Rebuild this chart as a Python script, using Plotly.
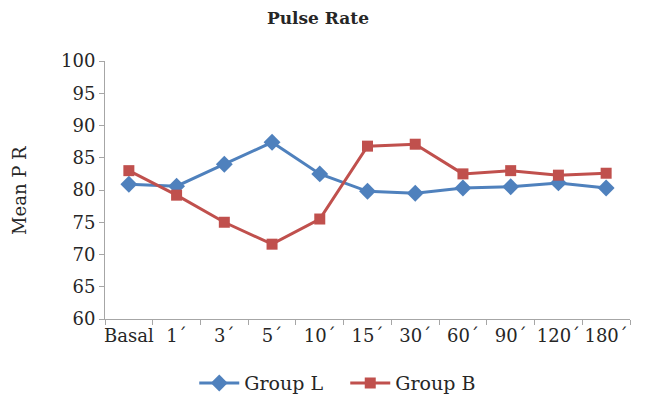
import plotly.graph_objects as go

categories = ["Basal", "1´", "3´", "5´", "10´", "15´", "30´", "60´", "90´", "120´", "180´"]
group_l = [80.9, 80.6, 84.0, 87.4, 82.5, 79.8, 79.5, 80.3, 80.5, 81.1, 80.3]
group_b = [83.0, 79.2, 75.0, 71.6, 75.5, 86.8, 87.1, 82.5, 83.0, 82.3, 82.6]
y_ticks = [60, 65, 70, 75, 80, 85, 90, 95, 100]

FONT = "DejaVu Serif"
TEXT = "#262626"
AXIS = "#A6A6A6"

fig = go.Figure()
fig.add_trace(go.Scatter(
    x=categories, y=group_l, name="Group L", mode="lines+markers",
    line=dict(color="#4F81BD", width=3),
    marker=dict(symbol="diamond", size=13, color="#4F81BD"),
))
fig.add_trace(go.Scatter(
    x=categories, y=group_b, name="Group B", mode="lines+markers",
    line=dict(color="#C0504D", width=3),
    marker=dict(symbol="square", size=11, color="#C0504D"),
))

fig.add_annotation(
    text="Mean P R", textangle=-90, xref="paper", yref="paper",
    x=-0.164, y=0.5, xanchor="center", yanchor="middle", showarrow=False,
    font=dict(family=FONT, size=18, color=TEXT),
)

fig.update_layout(
    width=645, height=396,
    margin=dict(l=105, r=15, t=61, b=77, autoexpand=False),
    paper_bgcolor="white", plot_bgcolor="white",
    font=dict(family=FONT, size=18, color=TEXT),
    title=dict(text="<b>Pulse Rate</b>", x=0.493, xanchor="center", y=0.955, yanchor="middle",
               font=dict(family=FONT, size=17, color=TEXT)),
    showlegend=True,
    legend=dict(orientation="h", x=0.17, xanchor="left", y=-0.175, yanchor="top",
                font=dict(family=FONT, size=19), traceorder="normal",
                entrywidth=96, entrywidthmode="pixels", itemwidth=40),
    xaxis=dict(
        type="category", range=[-0.5, 10.5], tickson="boundaries",
        ticks="outside", ticklen=5, tickcolor=AXIS,
        showline=True, linecolor=AXIS, linewidth=1,
        showgrid=False, tickangle=0, automargin=False,
        tickfont=dict(family=FONT, size=18),
    ),
    yaxis=dict(
        range=[60, 100], tickvals=y_ticks, ticks="outside", ticklen=5,
        tickcolor=AXIS, showline=True, linecolor=AXIS, linewidth=1,
        showgrid=False, zeroline=False, automargin=False,
        tickfont=dict(family=FONT, size=18),
    ),
)

fig.write_html("out.html")
